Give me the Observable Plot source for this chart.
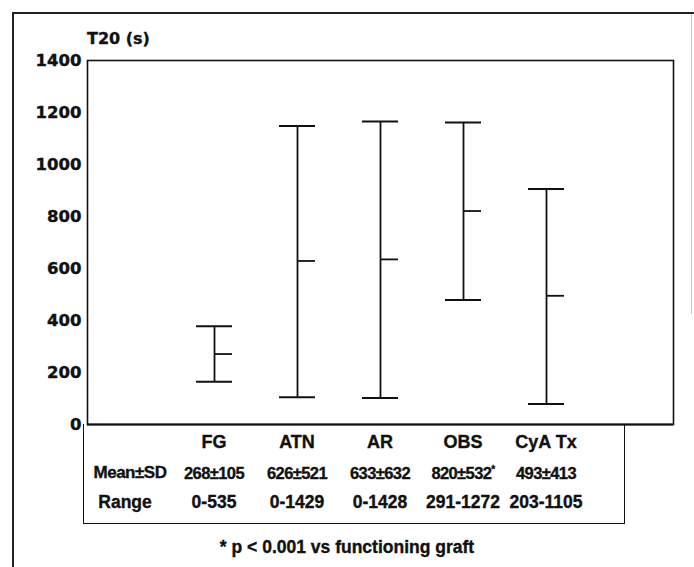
<!DOCTYPE html>
<html><head><meta charset="utf-8">
<script src="https://cdn.jsdelivr.net/npm/d3@7"></script>
<script src="https://cdn.jsdelivr.net/npm/@observablehq/plot@0.6"></script>
<style>
body{margin:0;background:#fff;}
#fig{position:relative;width:694px;height:567px;overflow:hidden;font-family:"Liberation Sans",Arial,sans-serif;font-weight:bold;color:#111;background:#fff;-webkit-text-stroke:0.35px #111;}
#outer{position:absolute;left:12px;top:12px;width:680px;height:620px;border-left:2px solid #222;border-top:2px solid #222;}
#rightedge{position:absolute;left:691px;top:14px;width:1px;height:300px;background:#c8c8c8;}
#chart{position:absolute;left:0;top:0;}
#chart svg text{stroke:#111;stroke-width:0.4px;}
#table{position:absolute;left:83px;top:424px;width:542px;height:100px;border:1.6px solid #111;border-top:none;box-sizing:border-box;}
#ylabel{position:absolute;left:87px;top:38px;transform:translateY(-50%);font-family:"DejaVu Sans",sans-serif;font-weight:bold;font-size:16px;white-space:nowrap;}
.cell{position:absolute;transform:translate(-50%,-50%);white-space:nowrap;}
.hdr{font-size:18px;}
.msd{font-size:16.5px;letter-spacing:-0.6px;}
.lbl{font-size:17px;letter-spacing:-0.5px;}
.rng{font-size:17.5px;}
#caption{position:absolute;left:347px;top:547px;transform:translate(-50%,-50%);font-size:17.5px;white-space:nowrap;}
sup{font-size:10px;vertical-align:6px;}
</style></head>
<body>
<div id="fig">
  <div id="outer"></div>
  <div id="rightedge"></div>
  <div id="chart"></div>
  <div id="table"></div>
  <div id="ylabel">T20 (s)</div>
  <div id="caption">* p &lt; 0.001 vs functioning graft</div>
</div>
<script>
// Data
const groups = ["FG", "ATN", "AR", "OBS", "CyA Tx"];
const barLow  = [164, 105, 102, 479, 79];
const barMid  = [271, 629, 635, 821, 495];
const barHigh = [378, 1148, 1165, 1162, 906];
const yTicks = [0, 200, 400, 600, 800, 1000, 1200, 1400];
const meanSD = ["268±105", "626±521", "633±632", "820±532*", "493±413"];
const ranges = ["0-535", "0-1429", "0-1428", "291-1272", "203-1105"];
const rowLabels = ["Mean±SD", "Range"];

const data = groups.map((g, i) => ({group: g, low: barLow[i], mid: barMid[i], high: barHigh[i]}));

const chart = Plot.plot({
  width: 694,
  height: 440,
  marginLeft: 87,
  marginRight: 21,
  marginTop: 60,
  marginBottom: 16,
  style: {fontFamily: "DejaVu Sans, sans-serif", fontWeight: "bold", fontSize: "16px", color: "#111", background: "transparent", overflow: "visible"},
  x: {domain: groups, paddingInner: 0.57, paddingOuter: 1.3, axis: null},
  y: {domain: [0, 1400], ticks: yTicks},
  marks: [
    Plot.frame({stroke: "#111", strokeWidth: 1.6}),
    Plot.axisY({ticks: yTicks, tickSize: 0, tickPadding: 6, label: null, fontSize: 16.5, tickFormat: d3.format("d")}),
    Plot.ruleY([0], {stroke: "#111", strokeWidth: 2.2}),
    Plot.ruleX(data, {x: "group", y1: "low", y2: "high", stroke: "#111", strokeWidth: 1.8}),
    Plot.tickY(data, {x: "group", y: "high", stroke: "#111", strokeWidth: 2}),
    Plot.tickY(data, {x: "group", y: "low", stroke: "#111", strokeWidth: 2}),
    Plot.tickY(data, {x: "group", y: "mid", stroke: "#111", strokeWidth: 1.8, insetLeft: 18})
  ]
});
document.getElementById("chart").appendChild(chart);

const xs = chart.scale("x");
const fig = document.getElementById("fig");
function cell(text, cx, cy, cls) {
  const d = document.createElement("div");
  d.className = "cell " + cls;
  d.style.left = cx + "px";
  d.style.top = cy + "px";
  if (text.endsWith("*")) {
    d.textContent = text.slice(0, -1);
    const s = document.createElement("sup");
    s.textContent = "*";
    d.appendChild(s);
  } else d.textContent = text;
  fig.appendChild(d);
}
const rowY = [442, 473, 502];
groups.forEach((g, i) => {
  const cx = xs.apply(g) + xs.bandwidth / 2;
  cell(g, cx, rowY[0], "hdr");
  cell(meanSD[i], cx, rowY[1], "msd");
  cell(ranges[i], cx, rowY[2], "rng");
});
cell(rowLabels[0], 130, rowY[1], "lbl");
cell(rowLabels[1], 125, rowY[2], "rng");
</script>
</body></html>
